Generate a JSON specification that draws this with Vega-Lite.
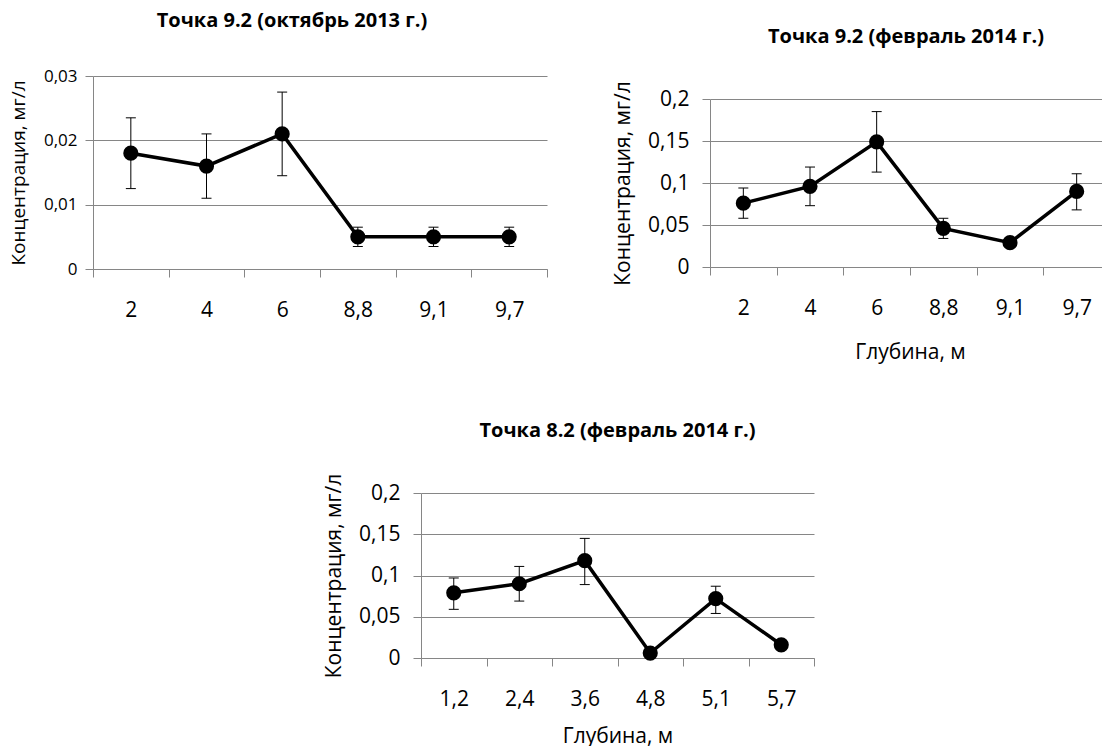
{
  "$schema": "https://vega.github.io/schema/vega-lite/v6.json",
  "padding": {"left": 9, "top": 0, "right": 0, "bottom": 0},
  "background": "white",
  "config": {
    "view": {"stroke": null},
    "font": "Open Sans",
    "axis": {
      "domainColor": "#868686", "tickColor": "#868686", "gridColor": "#868686",
      "labelColor": "black", "titleColor": "black", "titleFontWeight": "normal",
      "labelFont": "Open Sans", "titleFont": "Open Sans",
      "labelFontSize": 21, "titleFontSize": 21, "tickSize": 8
    },
    "axisX": {"grid": false, "labelAngle": 0, "tickBand": "extent", "labelPadding": 22, "titlePadding": 23},
    "axisY": {"grid": true, "labelPadding": 13, "titlePadding": 14},
    "title": {"fontSize": 20, "fontWeight": "bold", "color": "black", "font": "Open Sans", "frame": "group"}
  },
  "datasets": {
    "d1": [
      {"depth": "2", "c": 0.018, "lo": 0.0125, "hi": 0.0235},
      {"depth": "4", "c": 0.016, "lo": 0.011, "hi": 0.021},
      {"depth": "6", "c": 0.021, "lo": 0.0145, "hi": 0.0275},
      {"depth": "8,8", "c": 0.005, "lo": 0.0035, "hi": 0.0065},
      {"depth": "9,1", "c": 0.005, "lo": 0.0035, "hi": 0.0065},
      {"depth": "9,7", "c": 0.005, "lo": 0.0035, "hi": 0.0065}
    ],
    "d2": [
      {"depth": "2", "c": 0.076, "lo": 0.058, "hi": 0.094},
      {"depth": "4", "c": 0.096, "lo": 0.073, "hi": 0.119},
      {"depth": "6", "c": 0.149, "lo": 0.113, "hi": 0.185},
      {"depth": "8,8", "c": 0.046, "lo": 0.034, "hi": 0.058},
      {"depth": "9,1", "c": 0.029, "lo": 0.024, "hi": 0.034},
      {"depth": "9,7", "c": 0.09, "lo": 0.068, "hi": 0.111}
    ],
    "d3": [
      {"depth": "1,2", "c": 0.079, "lo": 0.059, "hi": 0.097},
      {"depth": "2,4", "c": 0.09, "lo": 0.069, "hi": 0.111},
      {"depth": "3,6", "c": 0.118, "lo": 0.089, "hi": 0.145},
      {"depth": "4,8", "c": 0.006, "lo": 0.003, "hi": 0.009},
      {"depth": "5,1", "c": 0.072, "lo": 0.054, "hi": 0.087},
      {"depth": "5,7", "c": 0.016, "lo": 0.013, "hi": 0.019}
    ]
  },
  "spacing": 59,
  "vconcat": [
    {
      "spacing": 64,
      "hconcat": [
        {
          "spacing": 0,
          "vconcat": [
            {"width": 1, "height": 11, "mark": "point", "data": {"values": []}},
            {
              "width": 454, "height": 193,
              "title": {"text": "Точка 9.2 (октябрь 2013 г.)", "dx": -28, "offset": 36},
              "data": {"name": "d1"},
              "encoding": {
                "x": {"field": "depth", "type": "ordinal", "sort": null,
                      "scale": {"type": "band", "paddingInner": 0, "paddingOuter": 0},
                      "axis": {"title": null}}
              },
              "layer": [
                {"mark": {"type": "line", "color": "black", "strokeWidth": 3.5},
                 "encoding": {"y": {"field": "c", "type": "quantitative", "title": "Концентрация, мг/л",
                   "scale": {"domain": [0, 0.03], "nice": false},
                   "axis": {"values": [0, 0.01, 0.02, 0.03], "labelExpr": "replace(format(datum.value, '~g'), '.', ',')",
                            "labelFontSize": 17, "labelPadding": 8, "titlePadding": 15, "titleFontSize": 19}}}},
                {"mark": {"type": "rule", "color": "black", "strokeWidth": 1},
                 "encoding": {"y": {"field": "lo", "type": "quantitative", "title": "Концентрация, мг/л"}, "y2": {"field": "hi"}}},
                {"mark": {"type": "tick", "color": "black", "thickness": 1, "size": 10, "opacity": 1},
                 "encoding": {"y": {"field": "lo", "type": "quantitative", "title": "Концентрация, мг/л"}}},
                {"mark": {"type": "tick", "color": "black", "thickness": 1, "size": 10, "opacity": 1},
                 "encoding": {"y": {"field": "hi", "type": "quantitative", "title": "Концентрация, мг/л"}}},
                {"mark": {"type": "point", "filled": true, "color": "black", "size": 230, "opacity": 1},
                 "encoding": {"y": {"field": "c", "type": "quantitative", "title": "Концентрация, мг/л"}}}
              ]
            }
          ]
        },
        {
          "spacing": 0,
          "vconcat": [
            {"width": 1, "height": 26, "mark": "point", "data": {"values": []}},
            {
              "width": 400, "height": 168,
              "title": {"text": "Точка 9.2 (февраль 2014 г.)", "dx": -4, "offset": 34},
              "data": {"name": "d2"},
              "encoding": {
                "x": {"field": "depth", "type": "ordinal", "sort": null,
                      "scale": {"type": "band", "paddingInner": 0, "paddingOuter": 0},
                      "axis": {"title": "Глубина, м"}}
              },
              "layer": [
                {"mark": {"type": "line", "color": "black", "strokeWidth": 3.5},
                 "encoding": {"y": {"field": "c", "type": "quantitative", "title": "Концентрация, мг/л",
                   "scale": {"domain": [0, 0.2], "nice": false},
                   "axis": {"values": [0, 0.05, 0.1, 0.15, 0.2], "labelExpr": "replace(format(datum.value, '~g'), '.', ',')"}}}},
                {"mark": {"type": "rule", "color": "black", "strokeWidth": 1},
                 "encoding": {"y": {"field": "lo", "type": "quantitative", "title": "Концентрация, мг/л"}, "y2": {"field": "hi"}}},
                {"mark": {"type": "tick", "color": "black", "thickness": 1, "size": 10, "opacity": 1},
                 "encoding": {"y": {"field": "lo", "type": "quantitative", "title": "Концентрация, мг/л"}}},
                {"mark": {"type": "tick", "color": "black", "thickness": 1, "size": 10, "opacity": 1},
                 "encoding": {"y": {"field": "hi", "type": "quantitative", "title": "Концентрация, мг/л"}}},
                {"mark": {"type": "point", "filled": true, "color": "black", "size": 230, "opacity": 1},
                 "encoding": {"y": {"field": "c", "type": "quantitative", "title": "Концентрация, мг/л"}}}
              ]
            }
          ]
        }
      ]
    },
    {
      "spacing": 21,
      "hconcat": [
        {"width": 209, "height": 1, "mark": "point", "data": {"values": []}},
        {
          "width": 393, "height": 165,
          "title": {"text": "Точка 8.2 (февраль 2014 г.)", "dx": 0, "offset": 32},
          "data": {"name": "d3"},
          "encoding": {
            "x": {"field": "depth", "type": "ordinal", "sort": null,
                  "scale": {"type": "band", "paddingInner": 0, "paddingOuter": 0},
                  "axis": {"title": "Глубина, м", "titlePadding": 16}}
          },
          "layer": [
            {"mark": {"type": "line", "color": "black", "strokeWidth": 3.5},
             "encoding": {"y": {"field": "c", "type": "quantitative", "title": "Концентрация, мг/л",
               "scale": {"domain": [0, 0.2], "nice": false},
               "axis": {"values": [0, 0.05, 0.1, 0.15, 0.2], "labelExpr": "replace(format(datum.value, '~g'), '.', ',')"}}}},
            {"mark": {"type": "rule", "color": "black", "strokeWidth": 1},
             "encoding": {"y": {"field": "lo", "type": "quantitative", "title": "Концентрация, мг/л"}, "y2": {"field": "hi"}}},
            {"mark": {"type": "tick", "color": "black", "thickness": 1, "size": 10, "opacity": 1},
             "encoding": {"y": {"field": "lo", "type": "quantitative", "title": "Концентрация, мг/л"}}},
            {"mark": {"type": "tick", "color": "black", "thickness": 1, "size": 10, "opacity": 1},
             "encoding": {"y": {"field": "hi", "type": "quantitative", "title": "Концентрация, мг/л"}}},
            {"mark": {"type": "point", "filled": true, "color": "black", "size": 230, "opacity": 1},
             "encoding": {"y": {"field": "c", "type": "quantitative", "title": "Концентрация, мг/л"}}}
          ]
        }
      ]
    }
  ]
}
